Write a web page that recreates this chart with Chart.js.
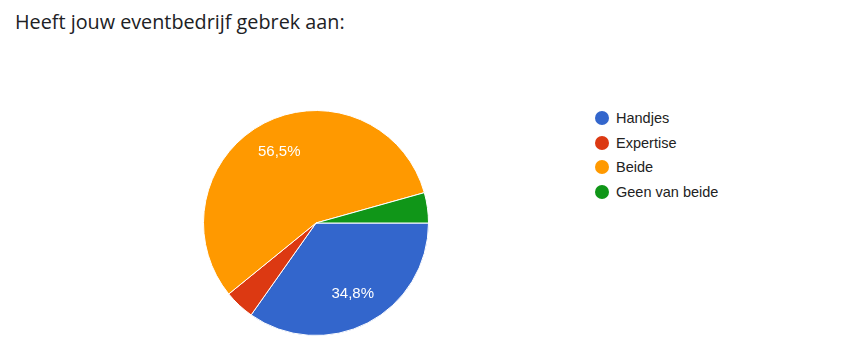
<!DOCTYPE html>
<html>
<head>
<meta charset="utf-8">
<script src="https://cdn.jsdelivr.net/npm/chart.js@4"></script>
<style>
  body { margin: 0; background: #fff; width: 857px; height: 363px; position: relative; overflow: hidden; }
  #titel { position: absolute; left: 15px; top: 8px; font-family: "Open Sans", Roboto, sans-serif; font-size: 19.8px; color: #202124; }
  #taart { position: absolute; left: 203px; top: 110px; width: 226px; height: 226px; }
  #legenda { position: absolute; left: 595px; top: 106px; font-family: "Liberation Sans", Arial, sans-serif; font-size: 14.5px; color: #222; }
  .rij { height: 24.5px; display: flex; align-items: center; }
  .bol { width: 14px; height: 14px; border-radius: 50%; margin-right: 7px; }
</style>
</head>
<body>
<div id="titel">Heeft jouw eventbedrijf gebrek aan:</div>
<div id="taart"><canvas id="myChart"></canvas></div>
<div id="legenda"></div>
<script>
// antwoorden (23 respondenten)
var labels = ['Handjes', 'Expertise', 'Beide', 'Geen van beide'];
var aantallen = [8, 1, 13, 1];
var kleuren = ['#3366cc', '#dc3912', '#ff9900', '#109618'];

// legenda
var legenda = document.getElementById('legenda');
labels.forEach(function(l, i){
  var rij = document.createElement('div');
  rij.className = 'rij';
  rij.innerHTML = '<span class="bol" style="background:' + kleuren[i] + '"></span>' + l;
  legenda.appendChild(rij);
});

// percentages in de taart (zoals google forms, alleen grote stukken)
const percentPlugin = {
  id: 'percentages',
  afterDatasetsDraw(chart) {
    const ctx = chart.ctx;
    const meta = chart.getDatasetMeta(0);
    const totaal = aantallen.reduce(function(a, b){ return a + b; }, 0);
    ctx.save();
    ctx.fillStyle = '#fff';
    ctx.font = '15px "Liberation Sans", Arial, sans-serif';
    ctx.textAlign = 'center';
    ctx.textBaseline = 'middle';
    meta.data.forEach(function(arc, i){
      const p = aantallen[i] / totaal * 100;
      if (p < 10) return;
      const mid = (arc.startAngle + arc.endAngle) / 2;
      const r = arc.outerRadius * 0.71;
      const x = arc.x + Math.cos(mid) * r;
      const y = arc.y + Math.sin(mid) * r;
      ctx.fillText(p.toFixed(1).replace('.', ',') + '%', x, y);
    });
    ctx.restore();
  }
};

const ctx = document.getElementById('myChart').getContext('2d');

const config = {
  type: 'pie',
  data: {
    labels: labels,
    datasets: [{
      data: aantallen,
      backgroundColor: kleuren,
      borderColor: '#fff',
      borderWidth: 1
    }]
  },
  options: {
    responsive: true,
    maintainAspectRatio: false,
    animation: false,
    rotation: 90,
    plugins: {
      legend: { display: false },
      tooltip: { enabled: false }
    }
  },
  plugins: [percentPlugin]
};

const chart = new Chart(ctx, config);
</script>
</body>
</html>
